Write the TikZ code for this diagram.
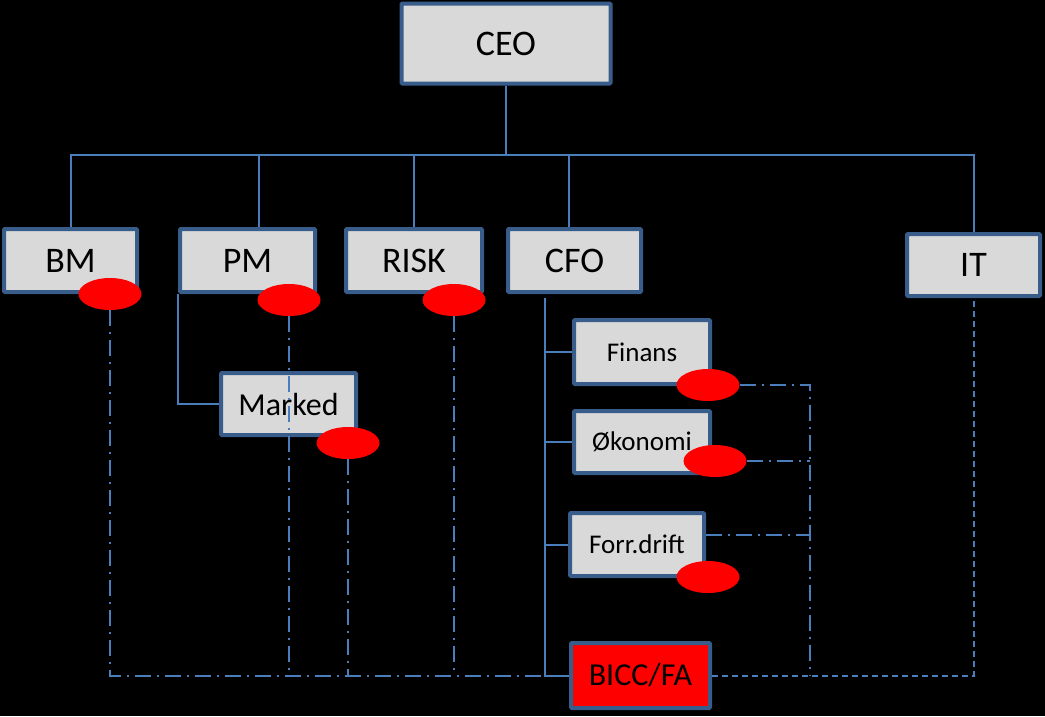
\documentclass[tikz,border=0pt]{standalone}
\usepackage{fontspec}
\setmainfont{Carlito}
\usetikzlibrary{shapes.geometric}
\definecolor{boxline}{RGB}{56,93,138}
\definecolor{boxfill}{RGB}{217,217,217}
\definecolor{lnk}{RGB}{74,126,187}

\begin{document}
\begin{tikzpicture}[x=1pt,y=-1pt,
    box/.style={draw=boxline,fill=boxfill,line width=4pt,rounded corners=1pt,inner sep=0pt,font=\fontsize{36}{40}\selectfont},
    subbox/.style={box,font=\fontsize{27}{31}\selectfont},
    blob/.style={ellipse,fill=red,minimum width=63pt,minimum height=32pt,inner sep=0pt},
    org/.style={draw=lnk,line width=2pt},
    dotln/.style={draw=lnk,line width=2pt,dash pattern=on 16pt off 6pt on 2pt off 6pt},
    dashln/.style={draw=lnk,line width=2pt,dash pattern=on 6pt off 4pt}]
                \fill [black] (0,0) rectangle (1045,716);
                \useasboundingbox (0,0) rectangle (1045,716);
                \node [box,minimum width=209pt,minimum height=80pt] (ceo) at (506,43.5) {CEO};
                \node [box,minimum width=133pt,minimum height=63pt] (bm) at (70.5,260.5) {BM};
                \node [box,minimum width=135pt,minimum height=63pt] (pm) at (247.5,260.5) {PM};
                \node [box,minimum width=136pt,minimum height=63pt] (risk) at (414,260.5) {RISK};
                \node [box,minimum width=133pt,minimum height=63pt] (cfo) at (574.5,260.5) {CFO};
                \node [box,minimum width=133pt,minimum height=62pt] (it) at (973.5,265) {IT};
                \node [box,minimum width=135pt,minimum height=62pt,font=\fontsize{32}{36}\selectfont] (marked) at (288.5,404) {Marked};
                \node [subbox,minimum width=136pt,minimum height=64pt] (fin) at (642,352) {Finans};
                \node [subbox,minimum width=136pt,minimum height=62pt] (oko) at (642,442) {Økonomi};
                \node [subbox,minimum width=134pt,minimum height=63pt] (fd) at (637,544.5) {Forr.drift};
                \node [box,fill=red,minimum width=139pt,minimum height=65pt,font=\fontsize{32}{36}\selectfont] (bicc) at (640.5,675.5) {BICC/FA};
                \node [blob] (ebm) at (110,294) {};
                \node [blob] (epm) at (289,300) {};
                \node [blob] (erisk) at (454,300) {};
                \node [blob] (emarked) at (348,443) {};
                \node [blob] (efin) at (708,385) {};
                \node [blob] (eoko) at (715,461) {};
                \node [blob] (efd) at (708,577) {};
                \coordinate (hub) at (506,155);
                \coordinate (spine) at (545,298);
                \coordinate (rail) at (810,675.5);
                \coordinate (fdout) at ([yshift=9.5pt]fd.east);
                \draw [org] (ceo) -- (hub);
                \draw [org] (bm) |- (hub);
                \draw [org] ([xshift=11.5pt]pm.north) |- (hub);
                \draw [org] (risk) |- (hub);
                \draw [org] ([xshift=-5.5pt]cfo.north) |- (hub);
                \draw [org] (it) |- (hub);
                \draw [org] (pm.south west) |- (marked);
                \draw [org] (spine) |- (bicc);
                \draw [org] (spine |- fin) -- (fin);
                \draw [org] (spine |- oko) -- (oko);
                \draw [org] (spine |- fd) -- (fd);
                \draw [dotln] (ebm) |- (bicc);
                \draw [dotln] (epm) -- (epm |- bicc);
                \draw [dotln] (erisk) -- (erisk |- bicc);
                \draw [dotln] (emarked) -- (emarked |- bicc);
                \draw [dotln] (efin) -| (rail);
                \draw [dotln] (eoko) -- (eoko -| rail);
                \draw [dotln] (fdout) -- (fdout -| rail);
                \draw [dashln] (bicc) -| (it);
            \end{tikzpicture}
\end{document}
